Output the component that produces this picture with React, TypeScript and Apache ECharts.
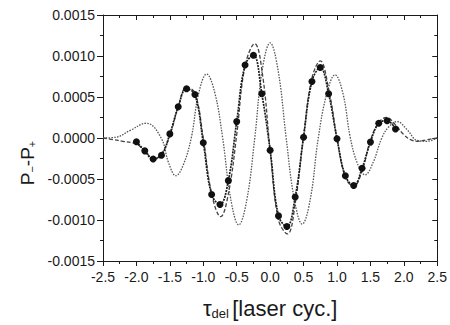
import React, { useEffect, useRef } from "react";
import * as echarts from "echarts";

// Measured points (filled circles), delay in laser cycles
const tauMeasured = [
  -2.0, -1.875, -1.75, -1.625, -1.5, -1.375, -1.25, -1.125, -1.0, -0.875, -0.75,
  -0.625, -0.5, -0.375, -0.25, -0.125, 0, 0.125, 0.25, 0.375, 0.5, 0.625, 0.75,
  0.875, 1.0, 1.125, 1.25, 1.375, 1.5, 1.625, 1.75, 1.875,
];
const asymMeasured = [
  -0.000045, -0.000157, -0.000257, -0.00021, 0.00005, 0.00038, 0.0006, 0.00053,
  -0.000057, -0.00069, -0.00081, -0.00052, 0.0002, 0.00089, 0.00101, 0.00054,
  -0.00015, -0.00095, -0.00108, -0.00072, 0.00001, 0.00069, 0.00086, 0.00054,
  -0.00001, -0.00046, -0.00058, -0.00037, -0.00005, 0.00018, 0.00021, 0.00011,
];

// Fine dotted gray curve
const tauCurveA = [
  -2.5, -2.3, -2.1, -1.85, -1.63, -1.52, -1.41, -1.3, -1.18, -1.07, -0.95, -0.83,
  -0.71, -0.59, -0.47, -0.35, -0.23, -0.12, 0, 0.12, 0.24, 0.36, 0.48, 0.6, 0.72,
  0.85, 0.97, 1.09, 1.2, 1.31, 1.42, 1.54, 1.67, 1.78, 1.9, 2.05, 2.2, 2.35, 2.5,
];
const asymCurveA = [
  0, 0.00001, 0.00009, 0.00018, 0, -0.0003, -0.00046, -0.00033, 0, 0.00054,
  0.00078, 0.00056, 0, -0.00074, -0.00106, -0.00076, 0, 0.00082, 0.00116, 0.00082,
  0, -0.00074, -0.00105, -0.00075, 0, 0.00055, 0.00077, 0.00054, 0, -0.00032,
  -0.00045, -0.0003, 0, 0.00014, 0.0002, 0.0001, -0.00003, -0.00004, 0,
];

// Dashed curve
const tauCurveB = [
  -2.5, -2.35, -2.2, -2.05, -1.95, -1.85, -1.75, -1.64, -1.5, -1.375, -1.25,
  -1.125, -1.0, -0.875, -0.74, -0.62, -0.5, -0.375, -0.23, -0.11, 0, 0.125, 0.26,
  0.375, 0.5, 0.625, 0.75, 0.875, 1.0, 1.125, 1.25, 1.375, 1.5, 1.625, 1.74,
  1.875, 2.0, 2.1, 2.2, 2.35, 2.5,
];
const asymCurveB = [
  0, -0.00002, -0.00004, -0.00006, -0.0001, -0.00018, -0.00025, -0.00021, 0.00003,
  0.00038, 0.00062, 0.00055, 0, -0.00068, -0.00096, -0.00066, 0.00004, 0.00088,
  0.00115, 0.00075, -0.00015, -0.001, -0.00117, -0.0008, 0.00003, 0.00073,
  0.00094, 0.0006, 0, -0.00048, -0.00059, -0.0004, -0.00003, 0.00019, 0.00025,
  0.00016, 0.00004, -0.00002, -0.00004, -0.00002, 0,
];

const FONT = "'Liberation Sans', Arial, sans-serif";
const INK = "#1a1a1a";

const pairs = (xs: number[], ys: number[]) => xs.map((x, i) => [x, ys[i]]);

export default function App() {
  const ref = useRef<HTMLDivElement>(null);

  useEffect(() => {
    document.body.style.margin = "0";
    const chart = echarts.init(ref.current!, undefined, { renderer: "svg" });

    const axisLine = { show: true, onZero: false, lineStyle: { color: INK, width: 1 } };

    chart.setOption({
      animation: false,
      backgroundColor: "#ffffff",
      grid: { left: 103, right: 8, top: 15, bottom: 56 },
      xAxis: [
        {
          type: "value",
          position: "bottom",
          min: -2.5,
          max: 2.5,
          interval: 0.5,
          axisLine,
          axisTick: { show: true, inside: false, length: 5, lineStyle: { color: INK } },
          minorTick: { show: true, splitNumber: 2, length: 3, lineStyle: { color: INK } },
          splitLine: { show: false },
          axisLabel: {
            margin: 9,
            color: INK,
            fontSize: 14,
            fontFamily: FONT,
            formatter: (v: number) => v.toFixed(1),
          },
          name: "{t|τ}{s|del} {t|[laser cyc.]}",
          nameLocation: "middle",
          nameGap: 35,
          nameTextStyle: {
            rich: {
              t: { fontSize: 22, fontFamily: FONT, color: INK },
              s: { fontSize: 13, fontFamily: FONT, color: INK, padding: [11, 0, 0, 0] },
            },
          },
        },
        {
          type: "value",
          position: "top",
          min: -2.5,
          max: 2.5,
          interval: 0.5,
          axisLine,
          axisTick: { show: true, inside: true, length: 5, lineStyle: { color: INK } },
          minorTick: { show: true, splitNumber: 2, length: 3, lineStyle: { color: INK } },
          splitLine: { show: false },
          axisLabel: { show: false },
        },
      ],
      yAxis: [
        {
          type: "value",
          position: "left",
          min: -0.0015,
          max: 0.0015,
          interval: 0.0005,
          axisLine,
          axisTick: { show: true, inside: false, length: 6, lineStyle: { color: INK } },
          minorTick: { show: true, splitNumber: 2, length: 3, lineStyle: { color: INK } },
          splitLine: { show: false },
          axisLabel: {
            margin: 8,
            color: INK,
            fontSize: 14,
            fontFamily: FONT,
            formatter: (v: number) => v.toFixed(4),
          },
        },
        {
          type: "value",
          position: "right",
          min: -0.0015,
          max: 0.0015,
          interval: 0.0005,
          axisLine,
          axisTick: { show: true, inside: true, length: 5, lineStyle: { color: INK } },
          minorTick: { show: true, splitNumber: 2, length: 3, lineStyle: { color: INK } },
          splitLine: { show: false },
          axisLabel: { show: false },
        },
      ],
      graphic: [
        {
          type: "text",
          x: 27,
          y: 163,
          rotation: Math.PI / 2,
          style: {
            text: "{t|P}{s|−}{t|-P}{s|+}",
            align: "center",
            verticalAlign: "middle",
            rich: {
              t: { fontSize: 19, fontFamily: FONT, fill: INK },
              s: { fontSize: 11, fontFamily: FONT, fill: INK, padding: [9, 0, 0, 0] },
            },
          },
        },
      ],
      series: [
        {
          type: "line",
          data: pairs(tauCurveA, asymCurveA),
          smooth: 0.4,
          showSymbol: false,
          lineStyle: { color: "#555555", width: 1.3, type: [1.5, 1.3] },
          z: 2,
        },
        {
          type: "line",
          data: pairs(tauCurveB, asymCurveB),
          smooth: 0.4,
          showSymbol: false,
          lineStyle: { color: "#444444", width: 1.3, type: [4, 2] },
          z: 3,
        },
        {
          type: "line",
          data: pairs(tauMeasured, asymMeasured),
          smooth: 0.4,
          symbol: "circle",
          symbolSize: 7,
          itemStyle: { color: "#111111" },
          lineStyle: { color: "#1a1a1a", width: 1.7, type: [2, 1] },
          z: 4,
        },
      ],
    });

    return () => chart.dispose();
  }, []);

  return <div ref={ref} style={{ width: 450, height: 325 }} />;
}
